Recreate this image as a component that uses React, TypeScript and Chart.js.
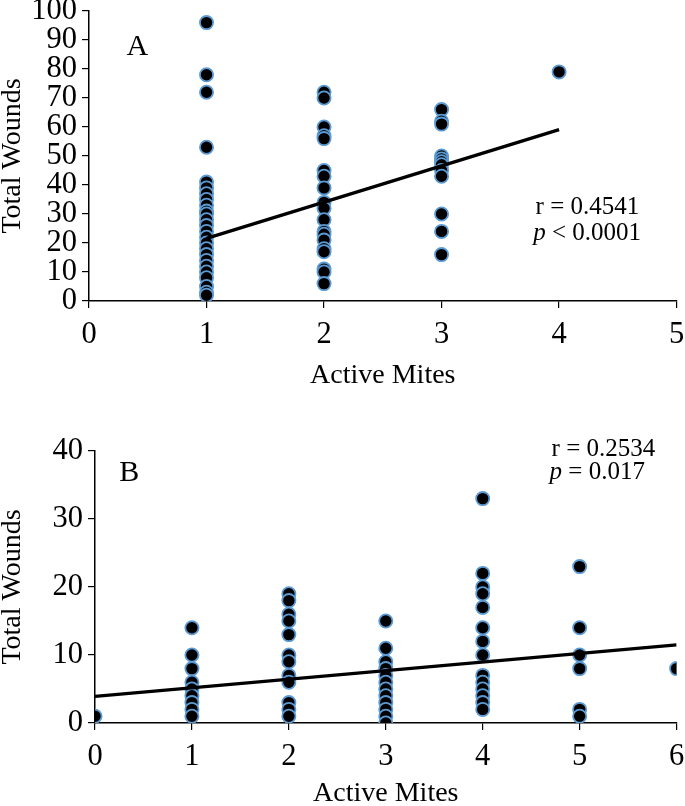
import { useEffect, useRef } from 'react';
import { Chart, registerables } from 'chart.js';

Chart.register(...registerables);

const FONT = "'Liberation Serif', 'Times New Roman', serif";

// ---------- Panel A ----------
const mitesA = [1, 2, 3, 4];
const woundsA_1 = [96, 78, 72, 53, 41, 39, 37, 35, 33, 31, 30, 28, 26, 24, 22, 20, 18, 16, 14, 12, 10, 8, 5, 3, 2];
const woundsA_2 = [72, 70, 60, 57, 56, 45, 43, 39, 34, 32, 28, 24, 23, 21, 18, 17, 11, 10, 6];
const woundsA_3 = [66, 62, 61, 50, 49, 48, 47, 45, 43, 30, 24, 16];
const woundsA_4 = [79];
const trendA_x = [1, 4];
const trendA_y = [21.6, 59.1];
const ticksA_x = [0, 1, 2, 3, 4, 5];
const ticksA_y = [0, 10, 20, 30, 40, 50, 60, 70, 80, 90, 100];

// ---------- Panel B ----------
const mitesB = [0, 1, 2, 3, 4, 5, 6];
const woundsB_0 = [1];
const woundsB_1 = [14, 10, 8, 6, 5, 4, 3, 2, 1];
const woundsB_2 = [19, 18, 16, 15, 13, 10, 9, 7, 6, 3, 2, 1];
const woundsB_3 = [15, 11, 9, 8, 7, 6, 5, 4, 3, 2, 1, 0];
const woundsB_4 = [33, 22, 20, 19, 17, 14, 12, 10, 7, 6, 5, 4, 3, 2];
const woundsB_5 = [23, 14, 10, 8, 2, 1];
const woundsB_6 = [8];
const trendB_x = [0, 6];
const trendB_y = [3.9, 11.5];
const ticksB_x = [0, 1, 2, 3, 4, 5, 6];
const ticksB_y = [0, 10, 20, 30, 40];

const xTitle = 'Active Mites';
const yTitle = 'Total Wounds';

function toPoints(xs: number[], cols: number[][]) {
  return cols.flatMap((c, i) => c.map((v) => ({ x: xs[i], y: v })));
}
function toLine(xs: number[], ys: number[]) {
  return xs.map((x, i) => ({ x, y: ys[i] }));
}

const annotPlugin = {
  id: 'annot',
  afterDatasetsDraw(chart: any, _args: any, opts: any) {
    const { ctx } = chart;
    const xs = chart.scales.x;
    const ys = chart.scales.y;
    for (const item of opts.items || []) {
      ctx.save();
      let px = xs.getPixelForValue(item.x);
      const py = ys.getPixelForValue(item.y);
      ctx.textBaseline = 'middle';
      ctx.textAlign = 'left';
      ctx.fillStyle = '#000';
      for (const part of item.parts) {
        ctx.font = `${part.italic ? 'italic ' : ''}${item.size}px ${FONT}`;
        ctx.fillText(part.t, px, py);
        px += ctx.measureText(part.t).width;
      }
      ctx.restore();
    }
  },
};

interface PanelProps {
  top: number;
  height: number;
  points: { x: number; y: number }[];
  line: { x: number; y: number }[];
  xTicks: number[];
  yTicks: number[];
  yAxisWidth: number;
  plotTop: number;
  plotBottom: number;
  plotRight: number;
  xTitleBottom: number;
  items: any[];
}

function Panel(p: PanelProps) {
  const ref = useRef<HTMLCanvasElement>(null);
  useEffect(() => {
    if (!ref.current) return;
    const tickFont = { family: FONT, size: 30.5 };
    const titleFont = { family: FONT, size: 28 };
    const xAxisHeight = p.height - p.plotBottom;
    const chart = new Chart(ref.current, {
      type: 'scatter',
      data: {
        datasets: [
          {
            type: 'line',
            data: p.line,
            borderColor: '#000',
            borderWidth: 3.3,
            pointRadius: 0,
            fill: false,
            order: 0,
          } as any,
          {
            type: 'scatter',
            data: p.points,
            backgroundColor: '#000',
            borderColor: '#5b9bd5',
            borderWidth: 1.8,
            pointRadius: 6.6,
            pointHoverRadius: 6.6,
            order: 1,
          },
        ],
      },
      options: {
        responsive: false,
        animation: false,
        events: [],
        layout: { padding: { top: p.plotTop, right: 685 - p.plotRight, left: 0, bottom: 0 } },
        plugins: {
          legend: { display: false },
          tooltip: { enabled: false },
          annot: { items: p.items },
        } as any,
        scales: {
          x: {
            type: 'linear',
            min: p.xTicks[0],
            max: p.xTicks[p.xTicks.length - 1],
            afterBuildTicks: (s: any) => {
              s.ticks = p.xTicks.map((v) => ({ value: v }));
            },
            afterFit: (s: any) => {
              s.height = xAxisHeight;
              s.paddingLeft = 0;
              s.paddingRight = 0;
            },
            ticks: { font: tickFont, color: '#000', padding: 9, maxRotation: 0, autoSkip: false },
            grid: { drawOnChartArea: false, drawTicks: true, tickLength: 7, color: '#000', lineWidth: 1.2 },
            border: { display: true, color: '#000', width: 1.5 },
            title: { display: true, text: xTitle, font: titleFont, color: '#000', padding: { top: 0, bottom: p.xTitleBottom } },
          },
          y: {
            type: 'linear',
            min: p.yTicks[0],
            max: p.yTicks[p.yTicks.length - 1],
            afterBuildTicks: (s: any) => {
              s.ticks = p.yTicks.map((v) => ({ value: v }));
            },
            afterFit: (s: any) => {
              s.width = p.yAxisWidth;
              s.paddingTop = 0;
              s.paddingBottom = 0;
            },
            ticks: { font: tickFont, color: '#000', padding: 5, autoSkip: false },
            grid: { drawOnChartArea: false, drawTicks: true, tickLength: 7, color: '#000', lineWidth: 1.2 },
            border: { display: true, color: '#000', width: 1.5 },
            title: { display: true, text: yTitle, font: titleFont, color: '#000', padding: { top: -4, bottom: 0 } },
          },
        },
      },
      plugins: [annotPlugin],
    });
    return () => chart.destroy();
  }, []);
  return (
    <canvas
      ref={ref}
      width={685}
      height={p.height}
      style={{ position: 'absolute', left: 0, top: p.top, width: 685, height: p.height }}
    />
  );
}

export default function App() {
  const pointsA = toPoints(mitesA, [woundsA_1, woundsA_2, woundsA_3, woundsA_4]);
  const pointsB = toPoints(mitesB, [woundsB_0, woundsB_1, woundsB_2, woundsB_3, woundsB_4, woundsB_5, woundsB_6]);
  return (
    <div style={{ position: 'absolute', left: 0, top: 0, width: 685, height: 806, background: '#fff', overflow: 'hidden' }}>
      <Panel
        top={0}
        height={400}
        points={pointsA}
        line={toLine(trendA_x, trendA_y)}
        xTicks={ticksA_x}
        yTicks={ticksA_y}
        yAxisWidth={89}
        plotTop={11}
        plotBottom={301}
        plotRight={678}
        xTitleBottom={8}
        items={[
          { x: 0.32, y: 87.6, size: 30, parts: [{ t: 'A' }] },
          { x: 3.8, y: 32.4, size: 25, parts: [{ t: 'r = 0.4541' }] },
          { x: 3.78, y: 23.4, size: 25, parts: [{ t: 'p', italic: true }, { t: ' < 0.0001' }] },
        ]}
      />
      <Panel
        top={420}
        height={390}
        points={pointsB}
        line={toLine(trendB_x, trendB_y)}
        xTicks={ticksB_x}
        yTicks={ticksB_y}
        yAxisWidth={95}
        plotTop={31}
        plotBottom={303}
        plotRight={677}
        xTitleBottom={0}
        items={[
          { x: 0.25, y: 36.8, size: 30, parts: [{ t: 'B' }] },
          { x: 4.71, y: 40.3, size: 25, parts: [{ t: 'r = 0.2534' }] },
          { x: 4.69, y: 36.8, size: 25, parts: [{ t: 'p', italic: true }, { t: ' = 0.017' }] },
        ]}
      />
    </div>
  );
}
